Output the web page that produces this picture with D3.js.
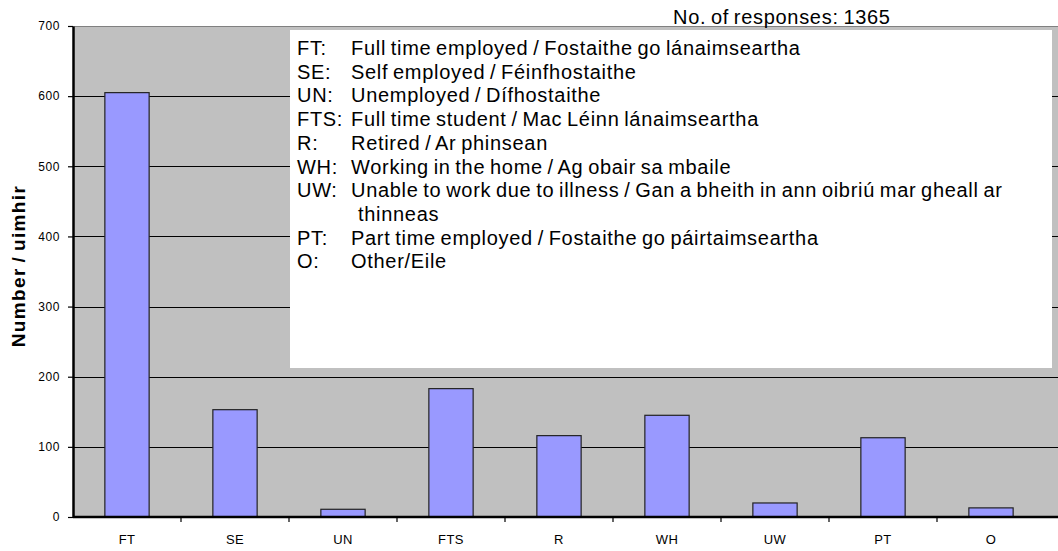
<!DOCTYPE html>
<html>
<head>
<meta charset="utf-8">
<script src="https://cdn.jsdelivr.net/npm/d3@7"></script>
<style>
  body { margin: 0; background: #fff; }
  text { font-family: "Liberation Sans", Arial, sans-serif; }
</style>
</head>
<body>
<div id="vis"></div>
<script>
const categories = ["FT", "SE", "UN", "FTS", "R", "WH", "UW", "PT", "O"];
const counts = [605, 153, 11, 183, 116, 145, 20, 113, 13];
const yTicks = [0, 100, 200, 300, 400, 500, 600, 700];
const legendCodes = ["FT:", "SE:", "UN:", "FTS:", "R:", "WH:", "UW:", "", "PT:", "O:"];
const legendLabels = [
  "Full time employed / Fostaithe go lánaimseartha",
  "Self employed / Féinfhostaithe",
  "Unemployed / Dífhostaithe",
  "Full time student / Mac Léinn lánaimseartha",
  "Retired / Ar phinsean",
  "Working in the home / Ag obair sa mbaile",
  "Unable to work due to illness / Gan a bheith in ann oibriú mar gheall ar",
  "thinneas",
  "Part time employed / Fostaithe go páirtaimseartha",
  "Other/Eile"
];
const totalLabel = "No. of responses: 1365";
const yTitle = "Number / uimhir";

const width = 1058;
const height = 551;
const plot = {left: 73, top: 26, bottom: 517, right: 1058, bandRight: 1045};

const svg = d3.select("#vis")
        .append("svg")
        .attr("width", width)
        .attr("height", height);

const x = d3.scaleBand()
        .domain(categories)
        .range([plot.left, plot.bandRight])
        .paddingInner(0.59)
        .paddingOuter(0.295);

const y = d3.scaleLinear()
        .domain([0, 700])
        .range([plot.bottom, plot.top]);

// plot area
svg.append("rect")
        .attr("x", plot.left)
        .attr("y", plot.top)
        .attr("width", plot.right - plot.left)
        .attr("height", plot.bottom - plot.top)
        .attr("fill", "#c0c0c0");

svg.append("line")
        .attr("x1", plot.left).attr("x2", plot.right)
        .attr("y1", plot.top + 0.5).attr("y2", plot.top + 0.5)
        .attr("stroke", "#808080");

// gridlines
svg.append("g")
        .selectAll("line")
        .data(yTicks.filter(d => d > 0 && d < 700))
        .join("line")
        .attr("x1", plot.left).attr("x2", plot.right)
        .attr("y1", d => Math.round(y(d)) + 0.5)
        .attr("y2", d => Math.round(y(d)) + 0.5)
        .attr("stroke", "#000");

// bars
svg.append("g")
        .selectAll("rect")
        .data(categories)
        .join("rect")
        .attr("x", d => x(d))
        .attr("y", (d, i) => y(counts[i]))
        .attr("width", x.bandwidth())
        .attr("height", (d, i) => y(0) - y(counts[i]))
        .attr("fill", "#9999ff")
        .attr("stroke", "#222")
        .attr("stroke-width", 1.2);

// y axis
const yAxis = d3.axisLeft(y)
        .tickValues(yTicks)
        .tickSizeInner(5)
        .tickSizeOuter(0)
        .tickPadding(8);

svg.append("g")
        .attr("transform", "translate(" + plot.left + ",0)")
        .call(yAxis)
        .call(g => g.select(".domain").attr("stroke-width", 2.5))
        .call(g => g.selectAll("line").attr("stroke-width", 1.2))
        .call(g => g.selectAll("text")
                .attr("font-size", 12)
                .attr("letter-spacing", 0.6)
                .attr("font-family", "Liberation Sans, Arial, sans-serif")
                .attr("fill", "#000"));

// x axis: ticks sit between categories
const xAxisG = svg.append("g")
        .attr("transform", "translate(0," + plot.bottom + ")");

xAxisG.append("line")
        .attr("x1", plot.left).attr("x2", plot.right)
        .attr("stroke", "#000")
        .attr("stroke-width", 2.5);

xAxisG.selectAll(".sep")
        .data(categories.slice(1))
        .join("line")
        .attr("class", "sep")
        .attr("x1", d => x(d) - x.step() * x.paddingInner() / 2)
        .attr("x2", d => x(d) - x.step() * x.paddingInner() / 2)
        .attr("y1", 0).attr("y2", 5)
        .attr("stroke", "#000")
        .attr("stroke-width", 1.2);

xAxisG.selectAll(".lbl")
        .data(categories)
        .join("text")
        .attr("class", "lbl")
        .attr("x", d => x(d) + x.bandwidth() / 2)
        .attr("y", 27)
        .attr("text-anchor", "middle")
        .attr("font-size", 13)
        .attr("letter-spacing", 0.4)
        .text(d => d);

// y title
svg.append("text")
        .attr("transform", "translate(25,266) rotate(-90)")
        .attr("text-anchor", "middle")
        .attr("font-size", 19)
        .attr("font-weight", "bold")
        .attr("letter-spacing", 1.4)
        .attr("word-spacing", -2)
        .text(yTitle);

// legend box
svg.append("rect")
        .attr("x", 290)
        .attr("y", 30)
        .attr("width", 762)
        .attr("height", 338)
        .attr("fill", "#fff");

const legend = svg.append("g")
        .attr("font-size", 20)
        .attr("letter-spacing", 0.7)
        .attr("word-spacing", -1.5);

legend.selectAll(".code")
        .data(legendCodes)
        .join("text")
        .attr("class", "code")
        .attr("x", 297)
        .attr("y", (d, i) => 55 + i * 23.7)
        .text(d => d);

legend.selectAll(".desc")
        .data(legendLabels)
        .join("text")
        .attr("class", "desc")
        .attr("x", (d, i) => legendCodes[i] === "" ? 358 : 351)
        .attr("y", (d, i) => 55 + i * 23.7)
        .text(d => d);

svg.append("text")
        .attr("x", 673)
        .attr("y", 24)
        .attr("font-size", 20)
        .attr("letter-spacing", 0.7)
        .attr("word-spacing", -1.5)
        .text(totalLabel);
</script>
</body>
</html>
